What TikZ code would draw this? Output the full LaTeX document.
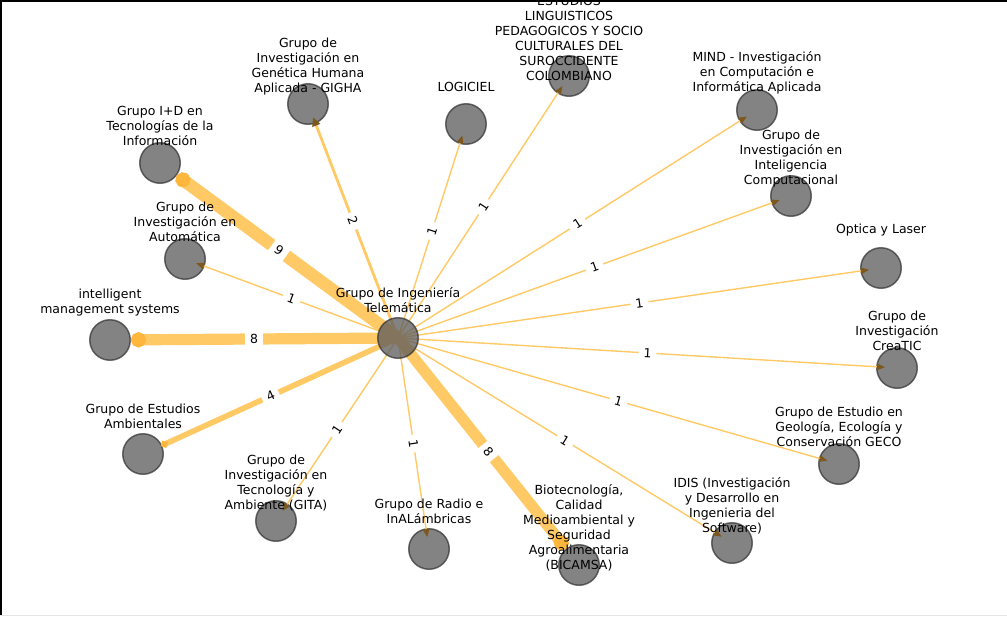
\documentclass[tikz,border=0pt]{standalone}
\usepackage{fontspec}
\setmainfont{DejaVu Sans}
\usetikzlibrary{arrows.meta}
\definecolor{linkorange}{RGB}{255,201,102}
\definecolor{tiporange}{RGB}{255,182,60}
\definecolor{tipbrown}{RGB}{125,88,30}
\definecolor{nodegray}{RGB}{90,90,90}
\definecolor{rimgray}{RGB}{50,50,50}
\pgfdeclarelayer{front}
\pgfsetlayers{main,front}

\begin{document}
\begin{tikzpicture}
[x=1pt,y=-1pt,
 groupnode/.style={circle,minimum size=40.5pt,inner sep=0pt,fill=nodegray,fill opacity=0.75,
   draw=rimgray,draw opacity=0.7,line width=1.5pt},
 tag/.style={align=center,inner sep=0pt,font=\fontsize{12.5}{15}\selectfont},
 link/.style={draw=linkorange,line width=#1},
 onelink/.style={link=1.4pt,shorten >=12pt,-{Triangle[length=8pt,width=6.5pt,color=tipbrown]}},
 twolink/.style={link=2.8pt,shorten >=14pt,-{Triangle[length=9pt,width=8pt,color=tipbrown]}},
 fourlink/.style={link=5.6pt,shorten >=20pt,-{Circle[length=7pt,width=7pt,color=tiporange]}},
 heavylink/.style={link=#1,shorten >=21pt,-{Circle[length=15pt,width=15pt,color=tiporange]}},
 wlabel/.style={sloped,fill=white,inner xsep=5pt,inner ysep=2.5pt,font=\fontsize{12.5}{14}\selectfont}]
\useasboundingbox (0,0) rectangle (1007,616);
% frame
\draw[line width=3.5pt] (0,616) -- (0,0) -- (1007,0);
\draw[black!10,line width=1pt] (0,615) -- (1007,615);

% hub on top of the links
\begin{pgfonlayer}{front}
\node[groupnode] (hub) at (398,338) {};
\end{pgfonlayer}

% research groups
\node[groupnode] (idtic) at (160,163) {};
\node[groupnode] (gigha) at (308,104) {};
\node[groupnode] (logiciel) at (466,124) {};
\node[groupnode] (elpscs) at (569,76) {};
\node[groupnode] (mind) at (757,110) {};
\node[groupnode] (gic) at (791,196) {};
\node[groupnode] (optica) at (881,268) {};
\node[groupnode] (creatic) at (897,368) {};
\node[groupnode] (geco) at (839,464) {};
\node[groupnode] (idis) at (732,543) {};
\node[groupnode] (bicamsa) at (579,565) {};
\node[groupnode] (radio) at (429,549) {};
\node[groupnode] (gita) at (276,521) {};
\node[groupnode] (gea) at (143,454) {};
\node[groupnode] (ims) at (110,340) {};
\node[groupnode] (automatica) at (185,259) {};

% links
\draw[heavylink=12.6pt] (hub.center) -- node[wlabel] {9} (idtic.center);
\draw[twolink] (hub.center) -- node[wlabel] {2} (gigha.center);
\draw[onelink] (hub.center) -- node[wlabel] {1} (logiciel.center);
\draw[onelink] (hub.center) -- node[wlabel] {1} (elpscs.center);
\draw[onelink] (hub.center) -- node[wlabel] {1} (mind.center);
\draw[onelink] (hub.center) -- node[wlabel] {1} (gic.center);
\draw[onelink] (hub.center) -- node[wlabel] {1} (optica.center);
\draw[onelink] (hub.center) -- node[wlabel] {1} (creatic.center);
\draw[onelink] (hub.center) -- node[wlabel] {1} (geco.center);
\draw[onelink] (hub.center) -- node[wlabel] {1} (idis.center);
\draw[heavylink=11.2pt] (hub.center) -- node[wlabel] {8} (bicamsa.center);
\draw[onelink] (hub.center) -- node[wlabel] {1} (radio.center);
\draw[onelink] (hub.center) -- node[wlabel] {1} (gita.center);
\draw[fourlink] (hub.center) -- node[wlabel] {4} (gea.center);
\draw[heavylink=11.2pt] (hub.center) -- node[wlabel] {8} (ims.center);
\draw[onelink] (hub.center) -- node[wlabel] {1} (automatica.center);

% names
\node[tag] (hub-t) at ([yshift=37.5pt]hub.center) {Grupo de Ingeniería\\Telemática};
\node[tag] (idtic-t) at ([yshift=37.5pt]idtic.center) {Grupo I+D en\\Tecnologías de la\\Información};
\node[tag] (gigha-t) at ([yshift=37.5pt]gigha.center) {Grupo de\\Investigación en\\Genética Humana\\Aplicada - GIGHA};
\node[tag] (logiciel-t) at ([yshift=37.5pt]logiciel.center) {LOGICIEL};
\node[tag] (elpscs-t) at ([yshift=37.5pt]elpscs.center) {ESTUDIOS\\LINGUISTICOS\\PEDAGOGICOS Y SOCIO\\CULTURALES DEL\\SUROCCIDENTE\\COLOMBIANO};
\node[tag] (mind-t) at ([yshift=37.5pt]mind.center) {MIND - Investigación\\en Computación e\\Informática Aplicada};
\node[tag] (gic-t) at ([yshift=37.5pt]gic.center) {Grupo de\\Investigación en\\Inteligencia\\Computacional};
\node[tag] (optica-t) at ([yshift=37.5pt]optica.center) {Optica y Laser};
\node[tag] (creatic-t) at ([yshift=37.5pt]creatic.center) {Grupo de\\Investigación\\CreaTIC};
\node[tag] (geco-t) at ([yshift=37.5pt]geco.center) {Grupo de Estudio en\\Geología, Ecología y\\Conservación GECO};
\node[tag] (idis-t) at ([yshift=37.5pt]idis.center) {IDIS (Investigación\\y Desarrollo en\\Ingenieria del\\Software)};
\node[tag] (bicamsa-t) at ([yshift=37.5pt]bicamsa.center) {Biotecnología,\\Calidad\\Medioambiental y\\Seguridad\\Agroalimentaria\\(BICAMSA)};
\node[tag] (radio-t) at ([yshift=37.5pt]radio.center) {Grupo de Radio e\\InALámbricas};
\node[tag] (gita-t) at ([yshift=37.5pt]gita.center) {Grupo de\\Investigación en\\Tecnología y\\Ambiente (GITA)};
\node[tag] (gea-t) at ([yshift=37.5pt]gea.center) {Grupo de Estudios\\Ambientales};
\node[tag] (ims-t) at ([yshift=37.5pt]ims.center) {intelligent\\management systems};
\node[tag] (automatica-t) at ([yshift=37.5pt]automatica.center) {Grupo de\\Investigación en\\Automática};
\end{tikzpicture}
\end{document}
